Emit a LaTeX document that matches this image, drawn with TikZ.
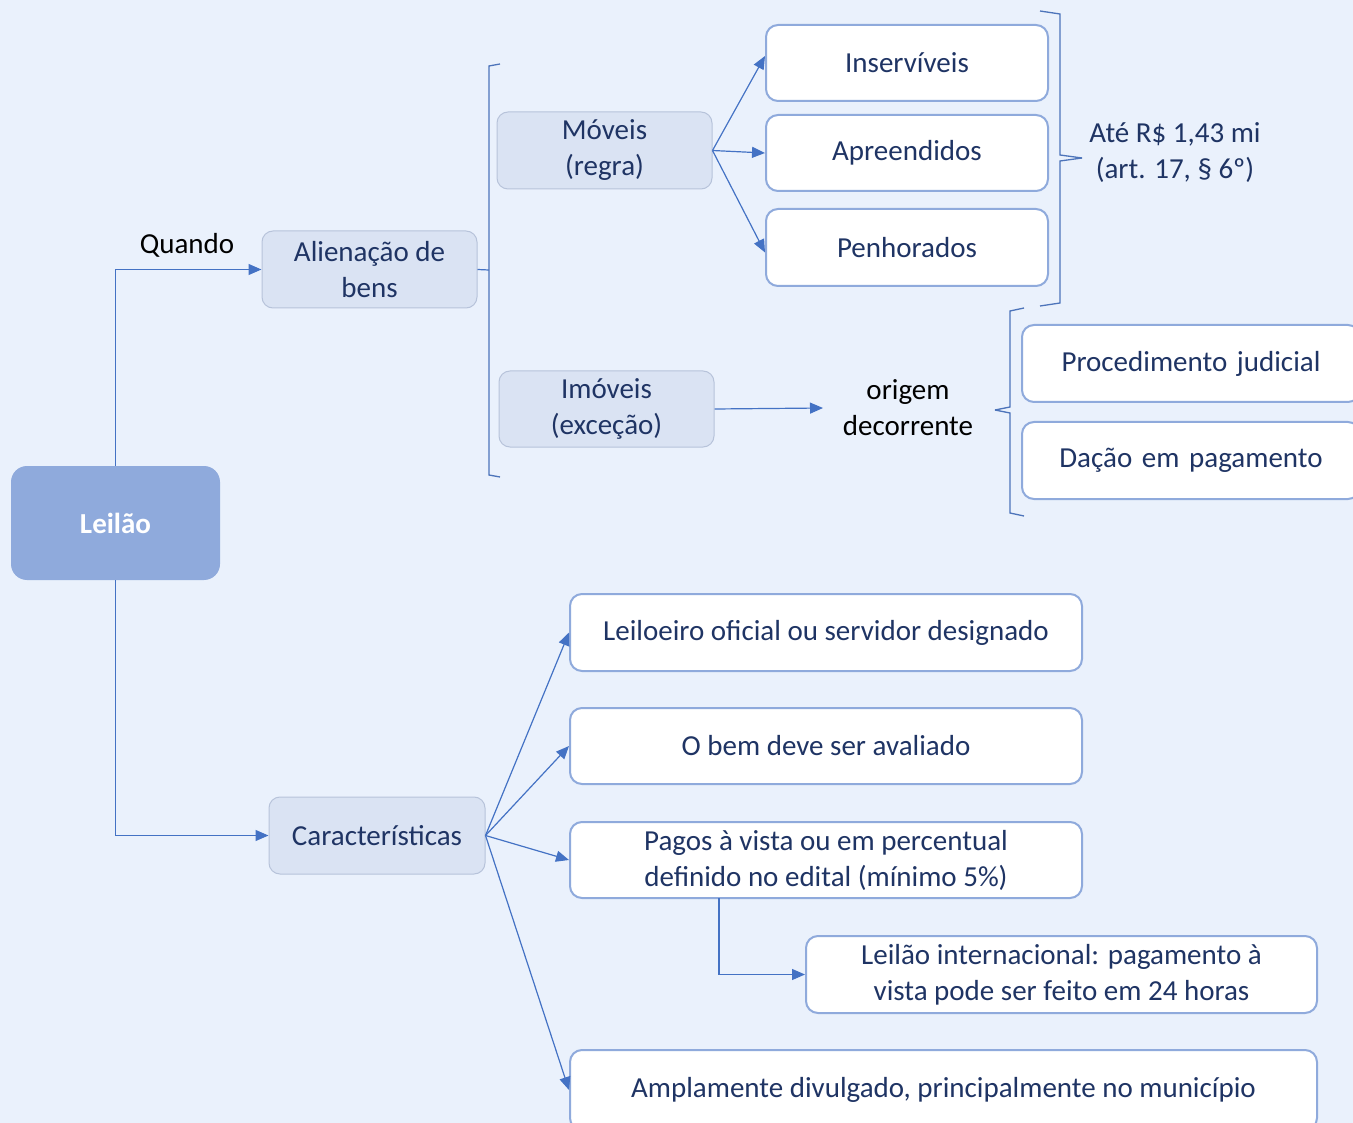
\documentclass[tikz,border=0pt]{standalone}
\usepackage{fontspec}
\setmainfont{Carlito}
\usetikzlibrary{arrows.meta}
\definecolor{bgc}{HTML}{EAF1FC}
\definecolor{rootc}{HTML}{8FAADC}
\definecolor{midc}{HTML}{DAE3F3}
\definecolor{midb}{HTML}{B7C3DA}
\definecolor{leafb}{HTML}{8FAADC}
\definecolor{navy}{HTML}{1F3464}
\definecolor{linec}{HTML}{4472C4}
\tikzset{
  every node/.style={font=\fontsize{29}{36}\selectfont, align=center, inner sep=0pt},
  rootbox/.style={fill=rootc, rounded corners=16pt, text=white, font=\fontsize{29}{36}\selectfont\bfseries},
  midbox/.style={fill=midc, draw=midb, line width=1pt, rounded corners=11pt, text=navy},
  leafbox/.style={fill=white, draw=leafb, line width=2pt, rounded corners=12pt, text=navy},
  conn/.style={draw=linec, line width=1.2pt, -{Triangle[length=13pt,width=11pt]}},
  plainline/.style={draw=linec, line width=1.2pt},
  bracec/.style={draw=linec!85!gray, line width=1.3pt},
}
\begin{document}
\begin{tikzpicture}[x=1pt,y=-1pt]
\useasboundingbox (0,0) rectangle (1353,1123);
\fill[bgc] (0,0) rectangle (1353,1123);
\clip (0,0) rectangle (1353,1123);

% nodes
\node[rootbox, minimum width=209pt, minimum height=114pt] (leilao) at (115.5,523) {Leilão};
\node[midbox, minimum width=215pt, minimum height=77pt] (alien) at (369.5,269.5) {Alienação de\\bens};
\node[midbox, minimum width=215pt, minimum height=77pt] (moveis) at (604.5,150.5) {Móveis\\(regra)};
\node[midbox, minimum width=215pt, minimum height=76pt] (imoveis) at (606.5,409) {Imóveis\\(exceção)};
\node[leafbox, minimum width=282pt, minimum height=76pt] (inserv) at (907,63) {Inservíveis};
\node[leafbox, minimum width=282pt, minimum height=76pt] (apreen) at (907,153) {Apreendidos};
\node[leafbox, minimum width=282pt, minimum height=77pt] (penhor) at (907,247.5) {Penhorados};
\node[text=navy] (ate) at (1175,153) {Até R\$ 1,43 mi\\(art. 17, § 6º)};
\node[text=black] (origem) at (908,408) {origem\\decorrente};
\node[leafbox, minimum width=338pt, minimum height=77pt, text width=338pt] (proc) at (1191,363.5) {Procedimento judicial};
\node[leafbox, minimum width=338pt, minimum height=77pt, text width=338pt] (dacao) at (1191,460.5) {Dação em pagamento};
\node[midbox, minimum width=216pt, minimum height=77pt] (carac) at (377,835.5) {Características};
\node[leafbox, minimum width=512pt, minimum height=77pt] (leiloeiro) at (826,632.5) {Leiloeiro oficial ou servidor designado};
\node[leafbox, minimum width=512pt, minimum height=76pt] (obem) at (826,746) {O bem deve ser avaliado};
\node[leafbox, minimum width=512pt, minimum height=76pt] (pagos) at (826,860) {Pagos à vista ou em percentual\\definido no edital (mínimo 5\%)};
\node[leafbox, minimum width=511pt, minimum height=77pt] (intl) at (1061.5,974.5) {Leilão internacional: pagamento à\\vista pode ser feito em 24 horas};
\node[leafbox, minimum width=747pt, minimum height=80pt] (ampla) at (943.5,1090) {Amplamente divulgado, principalmente no município};
\node[text=black] (quando) at (187,245) {Quando};

% connectors
\draw[conn] (leilao.north) |- (alien.west);
\draw[conn] (leilao.south) |- (carac.west);
\coordinate (bA) at (489,270);
\draw[plainline] (alien.east) -- (bA);
\draw[bracec] (500,64) -- (489,66) -- (489,475) -- (500,477);
\draw[conn] (moveis.east) -- ([yshift=7pt]inserv.west);
\draw[conn] (moveis.east) -- (apreen.west);
\draw[conn] (moveis.east) -- ([yshift=-5pt]penhor.west);
\coordinate (oL) at (823,408);
\draw[conn] (imoveis.east) -- (oL);
% braces
\draw[bracec] (1040,11) -- (1060,14) -- (1060,155) -- (1082,158);
\draw[bracec] (1082,158) -- (1060,161) -- (1060,303) -- (1040,306);
\draw[bracec] (1024,308) -- (1010,311) -- (1010,407) -- (995,410);
\draw[bracec] (995,410) -- (1010,413) -- (1010,513) -- (1024,516);
% characteristics
\draw[conn] (carac.east) -- (leiloeiro.west);
\draw[conn] (carac.east) -- (obem.west);
\draw[conn] (carac.east) -- (pagos.west);
\draw[conn] (carac.east) -- (ampla.west);
\coordinate (pb) at (719,898);
\draw[conn] (pb) |- (intl.west);
\end{tikzpicture}
\end{document}
